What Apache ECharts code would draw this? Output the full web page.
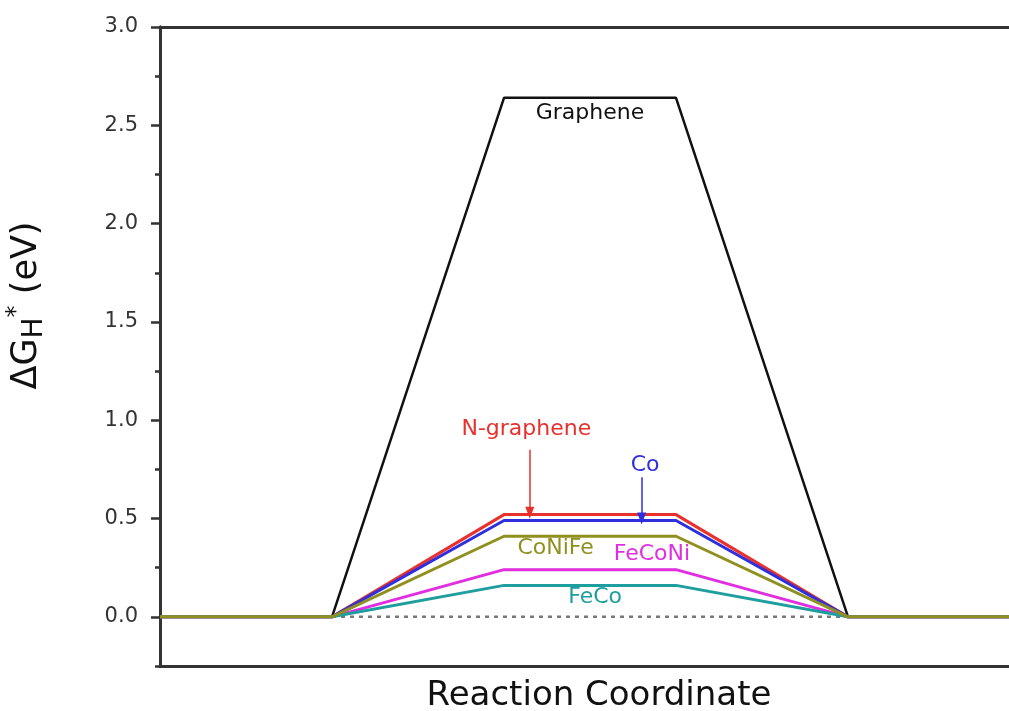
<!DOCTYPE html>
<html>
<head>
<meta charset="utf-8">
<script src="https://cdn.jsdelivr.net/npm/echarts@6/dist/echarts.min.js"></script>
<style>
html,body{margin:0;padding:0;background:#fff;}
#chart{width:1009px;height:711px;}
</style>
</head>
<body>
<div id="chart"></div>
<script>
// Reaction coordinate stations (arbitrary units)
const xPoints = [0, 1, 2, 3, 4, 5];
// ΔG_H* values at each station (eV)
const graphene  = [0, 0, 2.64, 2.64, 0, 0];
const nGraphene = [0, 0, 0.52, 0.52, 0, 0];
const co        = [0, 0, 0.49, 0.49, 0, 0];
const coNiFe    = [0, 0, 0.41, 0.41, 0, 0];
const feCoNi    = [0, 0, 0.24, 0.24, 0, 0];
const feCo      = [0, 0, 0.16, 0.16, 0, 0];
// dotted reference line at zero
const refX = [1, 4];
const refY = [0, 0];
// axis ticks
const majorTicks = [0, 0.5, 1.0, 1.5, 2.0, 2.5, 3.0];
const minorTicks = [-0.25, 0.25, 0.75, 1.25, 1.75, 2.25, 2.75];
const seriesNames = ['Graphene', 'N-graphene', 'Co', 'CoNiFe', 'FeCoNi', 'FeCo'];

const FONT = 'DejaVu Sans';
const colors = {
  'Graphene': '#111111',
  'N-graphene': '#e8302c',
  'Co': '#2f30dd',
  'CoNiFe': '#909020',
  'FeCoNi': '#e02ee0',
  'FeCo': '#1e9e9e'
};

// annotation positions (data coordinates)
const labelPos = {
  'Graphene': [2.5, 2.56],
  'N-graphene': [2.13, 0.955],
  'Co': [2.82, 0.77],
  'CoNiFe': [2.30, 0.35],
  'FeCoNi': [2.86, 0.32],
  'FeCo': [2.53, 0.10]
};
const arrows = {
  'N-graphene': [[2.15, 0.85], [2.15, 0.53]],
  'Co': [[2.80, 0.71], [2.80, 0.50]]
};

function pairs(xs, ys) { return xs.map((x, i) => [x, ys[i]]); }
const values = [graphene, nGraphene, co, coNiFe, feCoNi, feCo];
const zOrder = { 'Graphene': 3, 'N-graphene': 4, 'Co': 5, 'CoNiFe': 8, 'FeCoNi': 6, 'FeCo': 7 };

const series = [{
  type: 'line',
  data: pairs(refX, refY),
  symbol: 'none',
  lineStyle: { color: '#787878', width: 2.5, type: [4, 5] },
  z: 2,
  silent: true
}];

seriesNames.forEach((name, i) => {
  const s = {
    name: name,
    type: 'line',
    data: pairs(xPoints, values[i]),
    symbol: 'none',
    lineStyle: { color: colors[name], width: name === 'Graphene' ? 2.5 : 3 },
    z: zOrder[name],
    silent: true,
    markPoint: {
      symbol: 'circle',
      symbolSize: 0,
      silent: true,
      data: [{ coord: labelPos[name], value: name }],
      label: {
        show: true,
        position: 'inside',
        formatter: name,
        color: colors[name],
        fontFamily: FONT,
        fontSize: 22
      }
    }
  };
  if (arrows[name]) {
    s.markLine = {
      silent: true,
      symbol: ['none', 'triangle'],
      symbolSize: [9, 12],
      label: { show: false },
      lineStyle: { color: colors[name], width: 1.5, type: 'solid' },
      data: [[{ coord: arrows[name][0] }, { coord: arrows[name][1] }]]
    };
  }
  series.push(s);
});

const chart = echarts.init(document.getElementById('chart'), null, { renderer: 'canvas' });
chart.setOption({
  animation: false,
  backgroundColor: '#ffffff',
  grid: { left: 160, top: 27, right: -11, bottom: 45, containLabel: false, outerBoundsMode: 'none' },
  xAxis: [{
    type: 'value',
    min: 0, max: 5,
    position: 'bottom',
    name: 'Reaction Coordinate',
    nameLocation: 'middle',
    nameGap: 13,
    nameTextStyle: { fontFamily: FONT, fontSize: 34, color: '#111', verticalAlign: 'top', padding: [0, 0, 0, 18] },
    axisLine: { onZero: false, lineStyle: { color: '#333', width: 3 } },
    axisTick: { show: false },
    axisLabel: { show: false },
    splitLine: { show: false }
  }, {
    type: 'value',
    min: 0, max: 5,
    position: 'top',
    axisLine: { onZero: false, lineStyle: { color: '#333', width: 3 } },
    axisTick: { show: false },
    axisLabel: { show: false },
    splitLine: { show: false }
  }],
  yAxis: [{
    type: 'value',
    min: -0.25, max: 3.0,
    position: 'left',
    name: '{a|ΔG}{sub|H}{sup|*}{a| (eV)}',
    nameLocation: 'middle',
    nameGap: 111,
    nameTextStyle: {
      fontFamily: FONT, color: '#111', padding: [0, 0, 0, 82],
      rich: {
        a: { fontFamily: FONT, fontSize: 35, color: '#111', lineHeight: 44, verticalAlign: 'middle' },
        sub: { fontFamily: FONT, fontSize: 28, color: '#111', lineHeight: 44, verticalAlign: 'bottom' },
        sup: { fontFamily: FONT, fontSize: 24, color: '#111', lineHeight: 44, verticalAlign: 'top' }
      }
    },
    axisLine: { onZero: false, lineStyle: { color: '#333', width: 3 } },
    axisTick: { show: true, inside: false, length: 9, customValues: majorTicks, lineStyle: { color: '#333', width: 2.5 } },
    axisLabel: {
      show: true, customValues: majorTicks, margin: 22,
      formatter: v => Number(v).toFixed(1),
      fontFamily: FONT, fontSize: 21, color: '#333'
    },
    splitLine: { show: false }
  }, {
    type: 'value',
    min: -0.25, max: 3.0,
    position: 'left',
    axisLine: { onZero: false, lineStyle: { color: '#333', width: 3 } },
    axisTick: { show: true, inside: false, length: 5, customValues: minorTicks, lineStyle: { color: '#333', width: 2.5 } },
    axisLabel: { show: false },
    splitLine: { show: false }
  }],
  series: series
});
</script>
</body>
</html>
